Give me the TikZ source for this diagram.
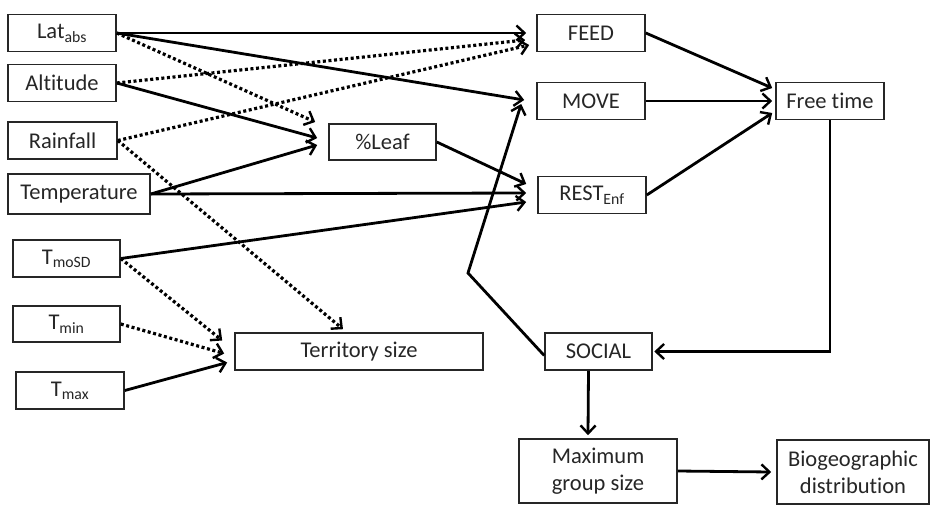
\documentclass[tikz,border=0pt]{standalone}
\usepackage{fontspec}
\setmainfont{Carlito}[Ligatures=NoCommon]
\usetikzlibrary{arrows.meta}
\begin{document}
\begin{tikzpicture}[x=1pt,y=-1pt,
  box/.style={draw=black!85, line width=1.6pt, fill=white, text=black!85, inner sep=0pt,
    font=\fontsize{22.5}{27}\selectfont, align=center, minimum width=108pt, minimum height=37pt},
  conn/.style={line width=2.8pt, black, -{Straight Barb[length=8pt,width=15pt,line width=2.4pt]}},
  dotconn/.style={conn, line width=3.2pt, dash pattern=on 3pt off 2.6pt},
]
\useasboundingbox (0,0) rectangle (930,507);
% left column
\node[box] (lat) at (62,33) {Lat\textsubscript{abs}};
\node[box] (alt) at (62,83) {Altitude};
\node[box, minimum width=109pt] (rain) at (62.5,140.5) {Rainfall};
\node[box, minimum width=142pt, minimum height=40pt] (temp) at (79,194) {Temperature};
\node[box, minimum width=107pt] (tmosd) at (66.5,258.5) {T\textsubscript{moSD}};
\node[box, minimum width=107pt, minimum height=36pt] (tmin) at (66.5,324) {T\textsubscript{min}};
\node[box] (tmax) at (70,390.5) {T\textsubscript{max}};
% middle
\node[box, minimum width=107pt, minimum height=36pt] (leaf) at (382.5,142) {\%Leaf};
\node[box, minimum width=248pt] (terr) at (359,351.5) {Territory size};
% activities
\node[box] (feed) at (591,33) {FEED};
\node[box] (move) at (591,101) {MOVE};
\node[box] (rest) at (592,195) {REST\textsubscript{Enf}};
\node[box] (free) at (830,101) {Free time};
\node[box, minimum width=107pt] (social) at (598.5,351.5) {SOCIAL};
\node[box, minimum width=158pt, minimum height=64pt] (maxg) at (598,471) {Maximum\\group size};
\node[box, minimum width=152pt, minimum height=64pt] (bio) at (853,472) {Biogeographic\\distribution};
\coordinate (bend) at (468,273);
% connectors to FEED / MOVE
\draw[conn] (lat.east) -- ([shift={(-10,0)}]feed.west);
\draw[conn] (lat.east) -- ([shift={(-12,-1)}]move.west);
\draw[dotconn] (alt.east) -- ([shift={(-11,7)}]feed.west);
\draw[dotconn] (rain.east) -- ([shift={(-7,12)}]feed.west);
% to %Leaf
\draw[dotconn] (lat.east) -- ([shift={(-13,-20)}]leaf.west);
\draw[conn] (alt.east) -- ([shift={(-11,-4)}]leaf.west);
\draw[conn] (temp.east) -- ([shift={(-11,3)}]leaf.west);
% to REST
\draw[conn] (leaf.east) -- ([shift={(-11,-11)}]rest.west);
\draw[conn] (temp.east) -- ([shift={(-11,-2)}]rest.west);
\draw[conn] (tmosd.east) -- ([shift={(-11,7)}]rest.west);
% to Territory size
\draw[dotconn] (rain.east) -- ([shift={(-16,-3)}]terr.north);
\draw[dotconn] (tmosd.east) -- ([shift={(-12,-11)}]terr.west);
\draw[dotconn] (tmin.east) -- ([shift={(-10,2)}]terr.west);
\draw[conn] (tmax.east) -- ([shift={(-7,11)}]terr.west);
% to Free time
\draw[conn] (feed.east) -- ([shift={(-3,-13)}]free.west);
\draw[conn] (move.east) -- ([shift={(-3,0)}]free.west);
\draw[conn] (rest.east) -- ([shift={(-3,12)}]free.west);
% Free time to SOCIAL
\draw[conn] (free.south) -- (free.south |- social.east) -- ([xshift=1.5]social.east);
% SOCIAL to MOVE
\draw[conn] ([yshift=-4]social.west) -- (bend) -- ([shift={(-15,3)}]move.west);
% SOCIAL to Max group
\draw[conn] ([xshift=-10]social.south) -- ([shift={(-10,-3)}]maxg.north);
% Max group to Biogeographic
\draw[conn] (maxg.east) -- ([xshift=-5]bio.west);
\end{tikzpicture}
\end{document}
